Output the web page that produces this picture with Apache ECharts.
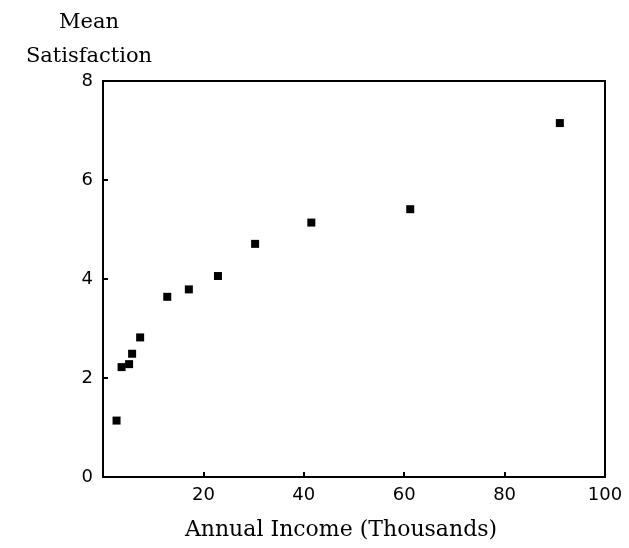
<!DOCTYPE html>
<html><head><meta charset="utf-8">
<script src="https://cdn.jsdelivr.net/npm/echarts@6/dist/echarts.min.js"></script>
<style>html,body{margin:0;padding:0;background:#fff}#c{width:629px;height:548px}</style>
</head><body><div id="c"></div>
<script>
const income = [2.7, 3.7, 5.2, 5.8, 7.4, 12.8, 17.1, 22.9, 30.3, 41.5, 61.2, 91.0];
const satisfaction = [1.14, 2.22, 2.28, 2.49, 2.82, 3.64, 3.79, 4.06, 4.71, 5.14, 5.41, 7.15];
const xTicks = [0, 20, 40, 60, 80, 100];
const yTicks = [0, 2, 4, 6, 8];

const points = income.map((v, i) => [v, satisfaction[i]]);
const chart = echarts.init(document.getElementById('c'));
chart.setOption({
  animation: false,
  title: {
    text: 'Mean\nSatisfaction', left: 84, top: 1, textAlign: 'center',
    textStyle: {fontFamily: 'DejaVu Serif', fontSize: 21, fontWeight: 'normal', color: '#000', lineHeight: 34}
  },
  grid: {left: 103, right: 24, top: 81, bottom: 71, show: true, borderColor: '#000', borderWidth: 2},
  xAxis: {
    type: 'value', min: xTicks[0], max: xTicks[xTicks.length - 1], interval: 20,
    name: 'Annual Income (Thousands)', nameLocation: 'middle', nameGap: 42,
    nameTextStyle: {fontFamily: 'DejaVu Serif', fontSize: 22, color: '#000', padding: [0, 26, 0, 0]},
    axisLine: {lineStyle: {color: '#000', width: 2}},
    axisTick: {inside: true, length: 5, lineStyle: {color: '#000', width: 2}},
    axisLabel: {fontFamily: 'DejaVu Sans', fontSize: 18, color: '#000', margin: 9, showMinLabel: false},
    splitLine: {show: false}
  },
  yAxis: {
    type: 'value', min: yTicks[0], max: yTicks[yTicks.length - 1], interval: 2,
    axisLine: {lineStyle: {color: '#000', width: 2}},
    axisTick: {inside: true, length: 5, lineStyle: {color: '#000', width: 2}},
    axisLabel: {fontFamily: 'DejaVu Sans', fontSize: 18, color: '#000', margin: 10},
    splitLine: {show: false}
  },
  series: [{
    type: 'scatter', data: points, symbol: 'rect', symbolSize: 8,
    itemStyle: {color: '#000', opacity: 1}
  }]
});
</script></body></html>
